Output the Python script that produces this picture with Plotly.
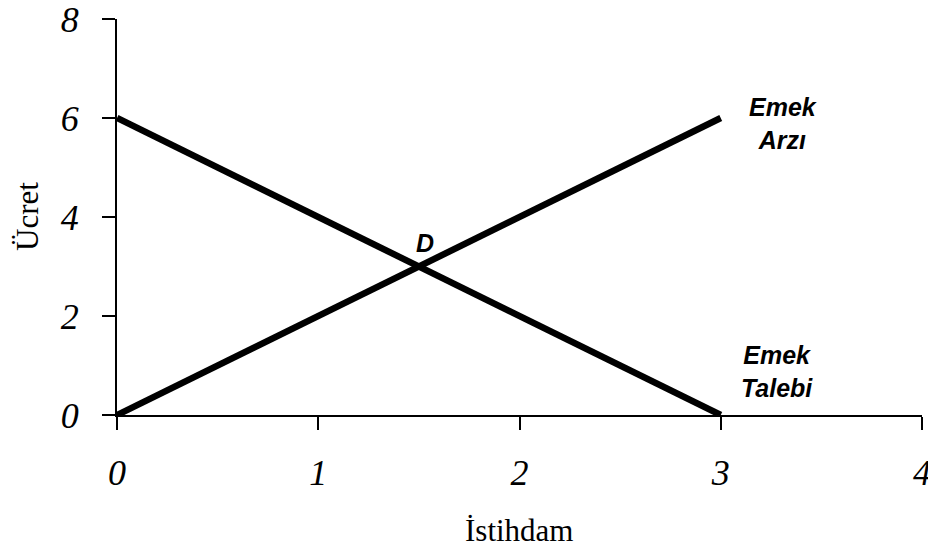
import plotly.graph_objects as go

# labour market: supply and demand
istihdam = [0, 3]
arz = [0, 6]
talep = [6, 0]

x_ticks = [0, 1, 2, 3, 4]
y_ticks = [0, 2, 4, 6, 8]

serif = "Liberation Serif, Times New Roman, serif"
sans = "Liberation Sans, Arial, sans-serif"

fig = go.Figure()
fig.add_trace(go.Scatter(x=istihdam, y=arz, mode="lines", name="Emek Arzı",
                         line=dict(color="black", width=6.5)))
fig.add_trace(go.Scatter(x=istihdam, y=talep, mode="lines", name="Emek Talebi",
                         line=dict(color="black", width=6.5)))

lbl_font = dict(family=sans, size=25, color="black")
fig.add_annotation(x=3.31, y=5.88, text="<b><i>Emek<br>Arzı</i></b>", showarrow=False, font=lbl_font)
fig.add_annotation(x=3.28, y=0.87, text="<b><i>Emek<br>Talebi</i></b>", showarrow=False, font=lbl_font)
fig.add_annotation(x=1.53, y=3.47, text="<b><i>D</i></b>", showarrow=False, font=lbl_font)

# axis titles placed as annotations (title standoff is ignored without automargin)
title_font = dict(family=serif, size=31, color="black")
fig.add_annotation(x=0.5, y=0, xref="paper", yref="paper", yshift=-115,
                   xanchor="center", yanchor="middle",
                   text="İstihdam", showarrow=False, font=title_font)
fig.add_annotation(x=0, y=0.5, xref="paper", yref="paper", xshift=-90, textangle=-90,
                   xanchor="center", yanchor="middle",
                   text="Ücret", showarrow=False, font=title_font)

fig.update_xaxes(range=[0, 4], tickvals=x_ticks, showgrid=False, zeroline=False,
                 showline=True, linecolor="black", linewidth=2,
                 ticks="outside", ticklen=13, tickwidth=2, tickcolor="black",
                 ticklabelstandoff=12, automargin=False, ticklabeloverflow="allow",
                 tickfont=dict(family=serif, size=36, color="black", style="italic"))
fig.update_yaxes(range=[0, 8], tickvals=y_ticks, showgrid=False, zeroline=False,
                 showline=True, linecolor="black", linewidth=2,
                 ticks="outside", ticklen=13, tickwidth=2, tickcolor="black",
                 ticklabelstandoff=16, automargin=False, ticklabeloverflow="allow",
                 tickfont=dict(family=serif, size=36, color="black", style="italic"))

# page body adds 8px around the div, so the figure is a bit smaller than the window
fig.update_layout(width=928, height=541, showlegend=False,
                  plot_bgcolor="white", paper_bgcolor="white",
                  margin=dict(l=109, r=14, t=11, b=134))
fig.write_html("out.html")
